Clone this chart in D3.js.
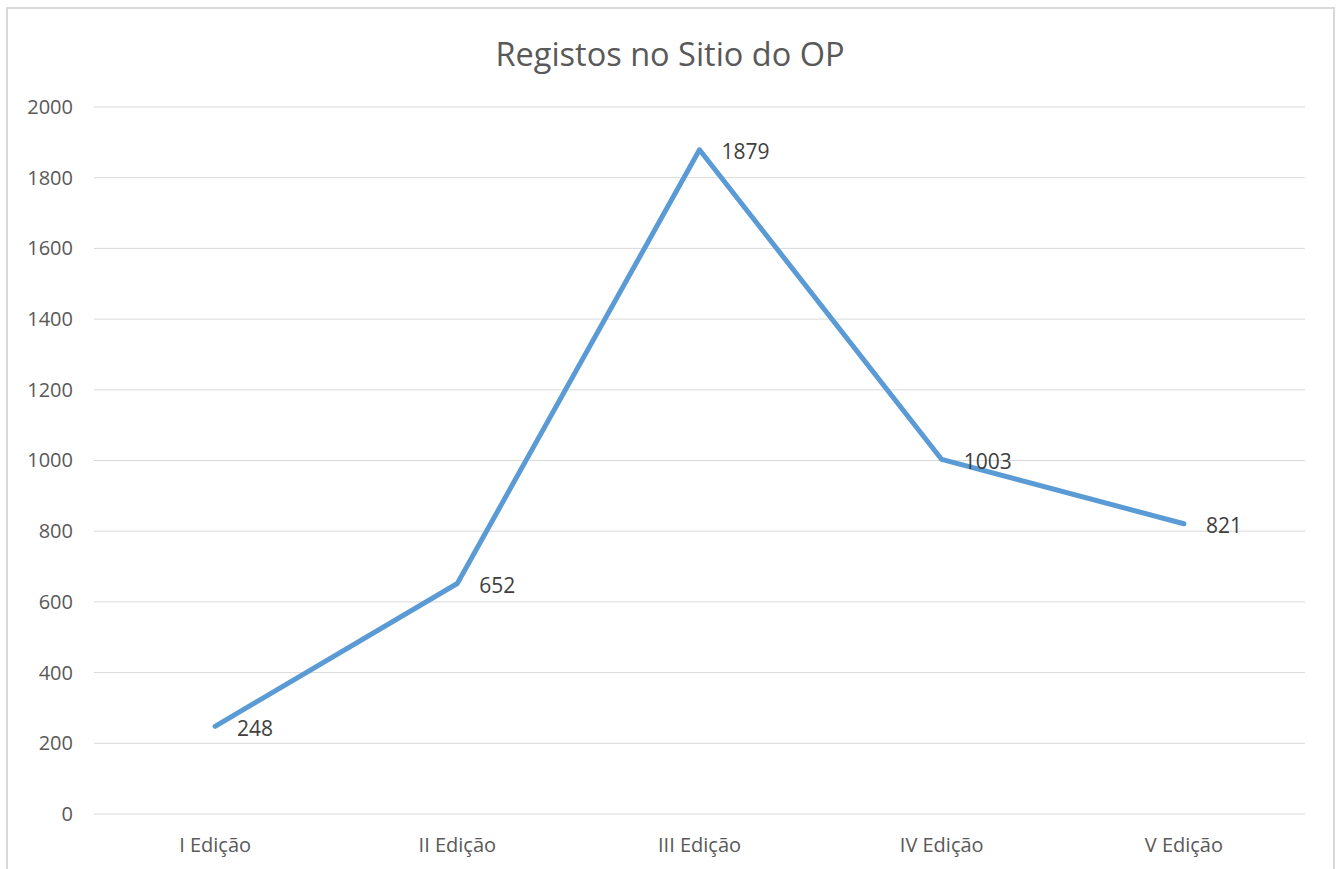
<!DOCTYPE html>
<html>
<head>
<meta charset="utf-8">
<title>Registos no Sitio do OP</title>
<script src="https://cdn.jsdelivr.net/npm/d3@7"></script>
<style>
  body { margin: 0; background: #fff; }
  text { font-family: "Open Sans", sans-serif; fill: #595959; }
</style>
</head>
<body>
<script>
// chart data
var categories = ["I Edição", "II Edição", "III Edição", "IV Edição", "V Edição"];
var registos = [248, 652, 1879, 1003, 821];
var yTicks = [0, 200, 400, 600, 800, 1000, 1200, 1400, 1600, 1800, 2000];
var title = "Registos no Sitio do OP";

var width = 1338, height = 869;
var margin = {top: 107, right: 33, bottom: 55, left: 94};

var svg = d3.select("body").append("svg")
  .attr("width", width)
  .attr("height", height);

// outer chart frame
svg.append("rect")
  .attr("x", 7).attr("y", 8)
  .attr("width", 1327).attr("height", 870)
  .attr("fill", "#fff")
  .attr("stroke", "#d9d9d9")
  .attr("stroke-width", 2);

var x = d3.scaleBand()
  .domain(categories)
  .range([margin.left, width - margin.right]);

var y = d3.scaleLinear()
  .domain([0, 2000])
  .range([height - margin.bottom, margin.top]);

// gridlines
svg.append("g")
  .selectAll("line")
  .data(yTicks)
  .enter().append("line")
  .attr("x1", margin.left)
  .attr("x2", width - margin.right)
  .attr("y1", function(d) { return y(d); })
  .attr("y2", function(d) { return y(d); })
  .attr("stroke", "#d9d9d9")
  .attr("stroke-width", 1);

// y axis
var yAxis = d3.axisLeft(y).tickValues(yTicks).tickFormat(d3.format("d")).tickSize(0).tickPadding(21);
var gy = svg.append("g")
  .attr("transform", "translate(" + margin.left + ",0)")
  .call(yAxis);
gy.select(".domain").remove();
gy.selectAll("text").attr("font-size", 20).style("font-family", "'Open Sans', sans-serif").style("fill", "#595959");

// x axis
var xAxis = d3.axisBottom(x).tickSize(0).tickPadding(24);
var gx = svg.append("g")
  .attr("transform", "translate(0," + (height - margin.bottom) + ")")
  .call(xAxis);
gx.select(".domain").remove();
gx.selectAll("text").attr("font-size", 20).style("font-family", "'Open Sans', sans-serif").style("fill", "#595959");

// line
var line = d3.line()
  .x(function(d, i) { return x(categories[i]) + x.bandwidth() / 2; })
  .y(function(d) { return y(d); });

svg.append("path")
  .datum(registos)
  .attr("d", line)
  .attr("fill", "none")
  .attr("stroke", "#5b9bd5")
  .attr("stroke-width", 5)
  .attr("stroke-linejoin", "round")
  .attr("stroke-linecap", "round");

// data labels
svg.append("g")
  .selectAll("text")
  .data(registos)
  .enter().append("text")
  .attr("x", function(d, i) { return x(categories[i]) + x.bandwidth() / 2 + 22; })
  .attr("y", function(d) { return y(d) + 2; })
  .attr("dy", "0.35em")
  .attr("font-size", 21)
  .style("fill", "#404040")
  .text(function(d) { return d; });

// title
svg.append("text")
  .attr("x", 670)
  .attr("y", 66)
  .attr("text-anchor", "middle")
  .attr("font-size", 32.5)
  .text(title);
</script>
</body>
</html>
